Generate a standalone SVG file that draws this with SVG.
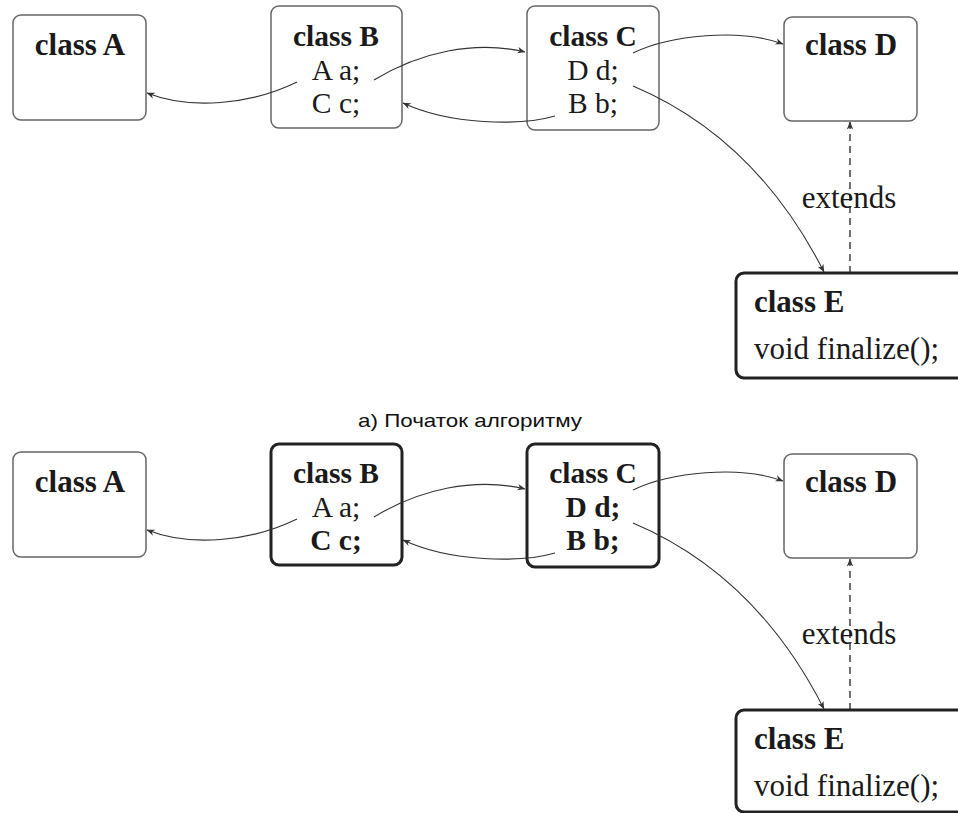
<svg xmlns="http://www.w3.org/2000/svg" width="958" height="813" viewBox="0 0 958 813">
<style>
.box{fill:#fff;stroke:#666;stroke-width:1.5}
.thick{fill:#fff;stroke:#222;stroke-width:3}
.t{font-family:"Liberation Serif","Times New Roman",serif;font-size:31px;fill:#1a1a1a}
.m{font-size:29.5px}
.b{font-weight:bold}
.c{text-anchor:middle}
.con{fill:none;stroke:#333;stroke-width:1.1;marker-end:url(#ah)}
.dash{fill:none;stroke:#222;stroke-width:1.3;stroke-dasharray:7 5;marker-end:url(#ah)}
.cap{font-family:"Liberation Sans",Arial,sans-serif;font-size:19px;fill:#111}
</style>
<defs>
<marker id="ah" viewBox="0 0 10 10" refX="9.5" refY="5" markerWidth="8" markerHeight="8" markerUnits="userSpaceOnUse" orient="auto">
<path d="M0,1 L10,5 L0,9 L3,5 Z" fill="#333"/>
</marker>
</defs>

<!-- Top panel -->
<g id="top-A"><rect class="box" x="13" y="15" width="133" height="105" rx="8"/><text class="t b c" x="80" y="55">class A</text></g>
<g id="top-B"><rect class="box" x="271" y="6" width="131" height="122" rx="8"/><text class="t m b c" x="336" y="46">class B</text><text class="t m c" x="336" y="79.5">A a;</text><text class="t m c" x="336" y="113">C c;</text></g>
<g id="top-C"><rect class="box" x="527" y="6" width="132" height="124" rx="8"/><text class="t m b c" x="593" y="46">class C</text><text class="t m c" x="593" y="79.5">D d;</text><text class="t m c" x="593" y="113">B b;</text></g>
<g id="top-D"><rect class="box" x="784" y="17" width="133" height="104" rx="8"/><text class="t b c" x="851" y="55">class D</text></g>
<g id="top-E"><rect class="thick" x="736" y="273" width="240" height="105" rx="8"/><text class="t b" x="754" y="312">class E</text><text class="t" x="754" y="359">void finalize();</text></g>
<g id="top-connectors">
<path class="con" d="M297,82 C250,105 190,110 147,93"/>
<path class="con" d="M374,80 C420,52 475,40 525,52"/>
<path class="con" d="M555,116 C520,126 450,125 403,103"/>
<path class="con" d="M633,53 C670,35 740,28 783,44"/>
<path class="con" d="M633,86 Q756,138 824,272"/>
<path class="dash" d="M850,273 L850,122"/>
<text class="t c" x="849" y="208">extends</text>
</g>

<text class="cap" x="470" y="427" text-anchor="middle" textLength="224" lengthAdjust="spacingAndGlyphs">а) Початок алгоритму</text>

<!-- Bottom panel -->
<g id="bot-A"><rect class="box" x="13" y="452" width="133" height="105" rx="8"/><text class="t b c" x="80" y="492">class A</text></g>
<g id="bot-B"><rect class="thick" x="271" y="444" width="131" height="121" rx="8"/><text class="t m b c" x="336" y="483">class B</text><text class="t m c" x="336" y="516.5">A a;</text><text class="t m b c" x="336" y="550">C c;</text></g>
<g id="bot-C"><rect class="thick" x="527" y="444" width="132" height="123" rx="8"/><text class="t m b c" x="593" y="483">class C</text><text class="t m b c" x="593" y="516.5">D d;</text><text class="t m b c" x="593" y="550">B b;</text></g>
<g id="bot-D"><rect class="box" x="784" y="454" width="133" height="104" rx="8"/><text class="t b c" x="851" y="492">class D</text></g>
<g id="bot-E"><rect class="thick" x="736" y="710" width="240" height="102" rx="8"/><text class="t b" x="754" y="749">class E</text><text class="t" x="754" y="796">void finalize();</text></g>
<g id="bot-connectors">
<path class="con" d="M297,519 C250,542 190,547 147,530"/>
<path class="con" d="M374,517 C420,489 475,477 525,489"/>
<path class="con" d="M555,553 C520,563 450,562 403,540"/>
<path class="con" d="M633,490 C670,472 740,465 783,481"/>
<path class="con" d="M633,523 Q756,575 824,709"/>
<path class="dash" d="M850,710 L850,559"/>
<text class="t c" x="849" y="644">extends</text>
</g>
</svg>
